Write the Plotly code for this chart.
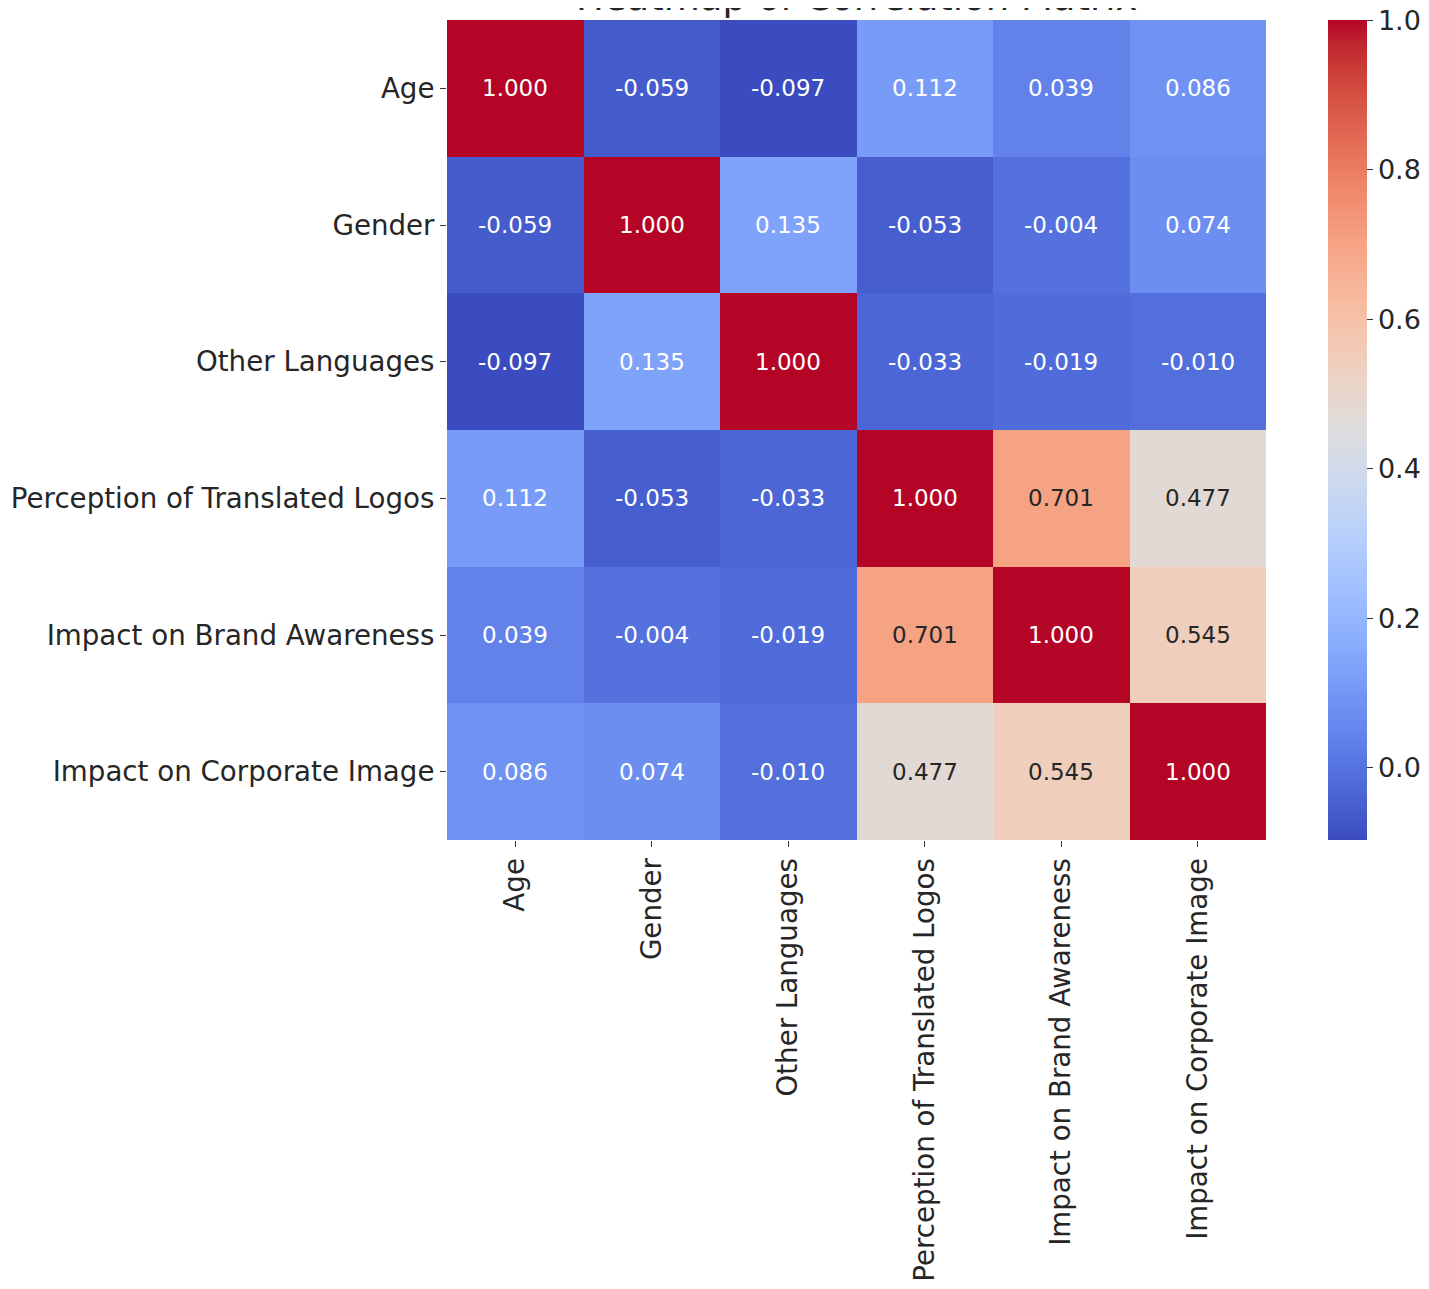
import plotly.graph_objects as go

labels = [
    "Age",
    "Gender",
    "Other Languages",
    "Perception of Translated Logos",
    "Impact on Brand Awareness",
    "Impact on Corporate Image",
]

corr = [
    [1.000, -0.059, -0.097, 0.112, 0.039, 0.086],
    [-0.059, 1.000, 0.135, -0.053, -0.004, 0.074],
    [-0.097, 0.135, 1.000, -0.033, -0.019, -0.010],
    [0.112, -0.053, -0.033, 1.000, 0.701, 0.477],
    [0.039, -0.004, -0.019, 0.701, 1.000, 0.545],
    [0.086, 0.074, -0.010, 0.477, 0.545, 1.000],
]

colorbar_ticks = [0.0, 0.2, 0.4, 0.6, 0.8, 1.0]

# matplotlib "coolwarm"
coolwarm = [
    (59, 76, 192), (68, 90, 204), (77, 104, 215), (87, 117, 225),
    (98, 130, 234), (108, 142, 241), (119, 154, 247), (130, 165, 251),
    (141, 176, 254), (152, 185, 255), (163, 194, 255), (174, 201, 253),
    (184, 208, 249), (194, 213, 244), (204, 217, 238), (213, 219, 230),
    (221, 221, 221), (229, 216, 209), (236, 211, 197), (241, 204, 185),
    (245, 196, 173), (247, 187, 160), (247, 177, 148), (247, 166, 135),
    (244, 154, 123), (241, 141, 111), (236, 127, 99), (229, 112, 88),
    (222, 96, 77), (213, 80, 66), (203, 62, 56), (192, 40, 47),
    (180, 4, 38),
]
n = len(coolwarm) - 1
colorscale = [[i / n, "rgb(%d,%d,%d)" % c] for i, c in enumerate(coolwarm)]

zmin = min(min(r) for r in corr)
zmax = 1.0005  # a hair over 1 so the top colorbar tick is kept

fig = go.Figure()
fig.add_trace(go.Heatmap(
    z=corr,
    x=labels,
    y=labels,
    zmin=zmin,
    zmax=zmax,
    colorscale=colorscale,
    xgap=0,
    ygap=0,
    hoverinfo="skip",
    colorbar=dict(
        x=1.0757,
        xanchor="left",
        y=0.5,
        yanchor="middle",
        len=1.0,
        lenmode="fraction",
        thickness=39,
        ypad=0,
        xpad=0,
        outlinewidth=0,
        tickvals=colorbar_ticks,
        ticktext=["%.1f" % t for t in colorbar_ticks],
        ticks="outside",
        ticklen=6,
        tickcolor="#333333",
        ticklabeloverflow="allow",
        tickfont=dict(family="DejaVu Sans", size=27, color="#262626"),
    ),
))

# cell values, light text on saturated cells like seaborn
for i, row in enumerate(corr):
    for j, v in enumerate(row):
        dark = 0.3 < v < 0.8
        fig.add_annotation(
            x=labels[j], y=labels[i], text="%.3f" % v,
            showarrow=False,
            font=dict(family="DejaVu Sans", size=23,
                      color="#262626" if dark else "white"),
        )

# title sits mostly above the top edge, as in the original export
fig.add_annotation(
    text="Heatmap of Correlation Matrix",
    xref="paper", yref="paper", x=0.5, y=1, yanchor="bottom", yshift=-1,
    showarrow=False,
    font=dict(family="DejaVu Sans", size=37, color="#262626"),
)

fig.update_xaxes(
    tickangle=-90,
    ticks="outside", ticklen=6, tickcolor="#333333",
    tickfont=dict(family="DejaVu Sans", size=27.7, color="#262626"),
    showgrid=False, zeroline=False, automargin=False,
)
fig.update_yaxes(
    autorange="reversed",
    ticks="outside", ticklen=6, tickcolor="#333333",
    tickfont=dict(family="DejaVu Sans", size=27.7, color="#262626"),
    showgrid=False, zeroline=False, automargin=False,
)

fig.update_layout(
    width=1425,
    height=1281,
    margin=dict(l=439, r=160, t=12, b=449),
    paper_bgcolor="white",
    plot_bgcolor="white",
    showlegend=False,
)

fig.write_html("out.html")
